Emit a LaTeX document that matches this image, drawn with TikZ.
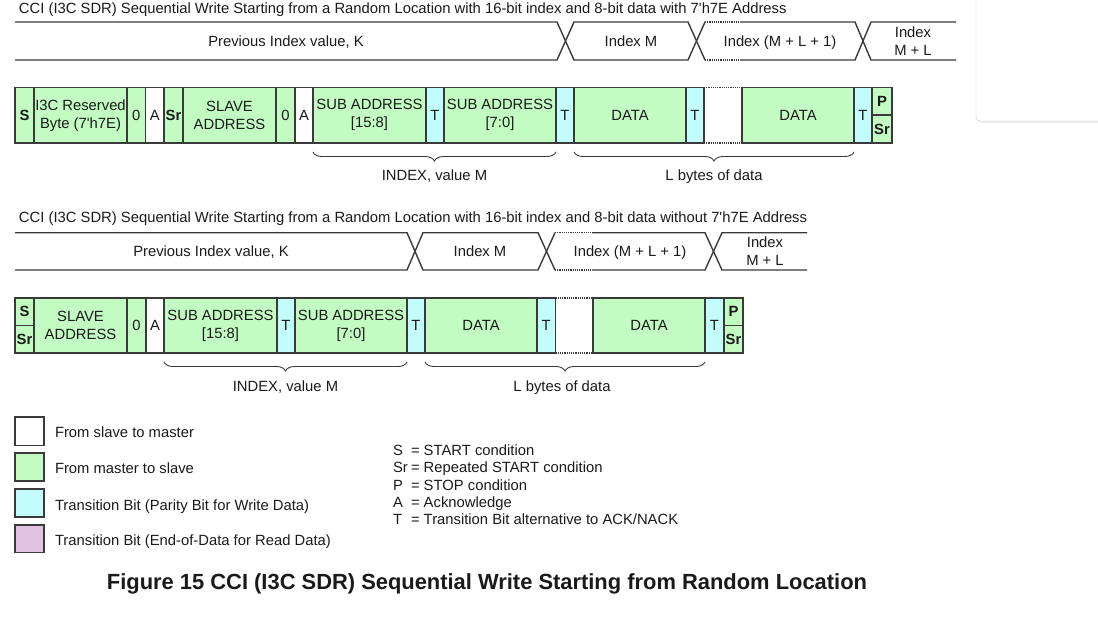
\documentclass[tikz,border=0pt]{standalone}
\usepackage{fontspec}
\newfontfamily\arialf{Liberation Sans}
\usetikzlibrary{decorations.pathreplacing}
\definecolor{gr}{HTML}{C2FCC2}
\definecolor{cy}{HTML}{C2FCFC}
\definecolor{pu}{HTML}{E2C2E2}
\definecolor{ln}{HTML}{3A3A3A}
\definecolor{tx}{HTML}{1A1A1A}
\newcommand\cell[7]{%
  \pgfmathsetmacro\cellw{#3-#2}\pgfmathsetmacro\cellh{#5-#4}%
  \node[cellbox,fill=#6,minimum width=\cellw pt,minimum height=\cellh pt] (#1) at ({(#2+#3)/2},{(#4+#5)/2}) {#7};}
\begin{document}
\begin{tikzpicture}[x=1pt,y=-1pt,
  every node/.style={font=\arialf\fontsize{14.8}{18}\selectfont, text=tx, inner sep=0pt, outer sep=0pt},
  cellbox/.style={draw=ln, line width=1.3pt, align=center},
  busline/.style={draw=ln, line width=1.4pt},
  dotline/.style={draw=ln, line width=1.2pt, densely dotted},
  bracestyle/.style={draw=ln, line width=0.9pt, decorate, decoration={brace, mirror, amplitude=9pt}},
  capfont/.style={font=\arialf\bfseries\fontsize{21.9}{26}\selectfont}]
\useasboundingbox (0,0) rectangle (1098,616);
% window artifact top right
\fill[black!7, rounded corners=5pt] (977,-10) rectangle (1112,123);
\draw[black!20, fill=white, rounded corners=4pt] (976,-10) rectangle (1110,121);

% ===== Section 1 =====
\node[anchor=base west] (t1) at (19,13.3) {CCI (I3C SDR) Sequential Write Starting from a Random Location with 16-bit index and 8-bit data with 7'h7E Address};
\draw[busline] (15,22) -- (557,22) -- (574,60) -- (688,60) -- (705,22);
\draw[busline] (15,60) -- (557,60) -- (574,22) -- (688,22) -- (705,60);
\draw[dotline] (705,22) -- (740,22);
\draw[dotline] (705,60) -- (740,60);
\draw[busline] (740,22) -- (855,22) -- (871,60) -- (956,60);
\draw[busline] (740,60) -- (855,60) -- (871,22) -- (956,22);
\node[anchor=base] (b1a) at (286,46.5) {Previous Index value, K};
\node[anchor=base] (b1b) at (631,46.5) {Index M};
\node[anchor=base] (b1c) at (780,46.5) {Index (M + L + 1)};
\node[align=center] (b1d) at (913,41.5) {Index\\M + L};

\cell{fa}{15}{34}{87.5}{143}{gr}{\textbf{S}}
\cell{fb}{34}{127}{87.5}{143}{gr}{I3C Reserved\\Byte (7'h7E)}
\cell{fc}{127}{145.5}{87.5}{143}{gr}{0}
\cell{fd}{145.5}{164}{87.5}{143}{white}{A}
\cell{fe}{164}{183}{87.5}{143}{gr}{\textbf{Sr}}
\cell{ff}{183}{276}{87.5}{143}{gr}{SLAVE\\ADDRESS}
\cell{fg}{276}{295}{87.5}{143}{gr}{0}
\cell{fh}{295}{313}{87.5}{143}{white}{A}
\cell{fi}{313}{426}{87.5}{143}{gr}{SUB ADDRESS\\{[15:8]}}
\cell{fj}{426}{444}{87.5}{143}{cy}{T}
\cell{fk}{444}{556}{87.5}{143}{gr}{SUB ADDRESS\\{[7:0]}}
\cell{fl}{556}{574}{87.5}{143}{cy}{T}
\cell{fm}{574}{686}{87.5}{143}{gr}{DATA}
\cell{fn}{686}{704}{87.5}{143}{cy}{T}
\cell{fo}{742}{854}{87.5}{143}{gr}{DATA}
\cell{fp}{854}{872}{87.5}{143}{cy}{T}
\cell{fq}{872}{892}{87.5}{115}{gr}{\textbf{P}}
\cell{fr}{872}{892}{115}{143}{gr}{\textbf{Sr}}
\draw[dotline] (fn.north east) -- (fo.north west);
\draw[dotline] (fn.south east) -- (fo.south west);
\draw[bracestyle] ([yshift=-9pt]fi.south west) -- ([yshift=-9pt]fk.south east);
\draw[bracestyle] ([yshift=-9pt]fm.south west) -- ([yshift=-9pt]fo.south east);
\node[anchor=base] (i1) at (434.5,180) {INDEX, value M};
\node[anchor=base] (l1) at (714,180) {L bytes of data};

% ===== Section 2 =====
\node[anchor=base west] (t2) at (19,222.7) {CCI (I3C SDR) Sequential Write Starting from a Random Location with 16-bit index and 8-bit data without 7'h7E Address};
\draw[busline] (15,232.7) -- (407,232.7) -- (423,270) -- (538,270) -- (555,232.7);
\draw[busline] (15,270) -- (407,270) -- (423,232.7) -- (538,232.7) -- (555,270);
\draw[dotline] (555,232.7) -- (592,232.7);
\draw[dotline] (555,270) -- (592,270);
\draw[busline] (592,232.7) -- (705,232.7) -- (722,270) -- (807,270);
\draw[busline] (592,270) -- (705,270) -- (722,232.7) -- (807,232.7);
\node[anchor=base] (b2a) at (211,256) {Previous Index value, K};
\node[anchor=base] (b2b) at (480,256) {Index M};
\node[anchor=base] (b2c) at (630,256) {Index (M + L + 1)};
\node[align=center] (b2d) at (765,251.5) {Index\\M + L};

\cell{sa}{15}{34}{298}{325.5}{gr}{\textbf{S}}
\cell{sb}{15}{34}{325.5}{353}{gr}{\textbf{Sr}}
\cell{sc}{34}{127}{298}{353}{gr}{SLAVE\\ADDRESS}
\cell{sd}{127}{146}{298}{353}{gr}{0}
\cell{se}{146}{164}{298}{353}{white}{A}
\cell{sf}{164}{277}{298}{353}{gr}{SUB ADDRESS\\{[15:8]}}
\cell{sg}{277}{295}{298}{353}{cy}{T}
\cell{sh}{295}{407}{298}{353}{gr}{SUB ADDRESS\\{[7:0]}}
\cell{si}{407}{425}{298}{353}{cy}{T}
\cell{sj}{425}{537}{298}{353}{gr}{DATA}
\cell{sk}{537}{555.5}{298}{353}{cy}{T}
\cell{sl}{593}{705}{298}{353}{gr}{DATA}
\cell{sm}{705}{724}{298}{353}{cy}{T}
\cell{sn}{724}{743}{298}{325.5}{gr}{\textbf{P}}
\cell{so}{724}{743}{325.5}{353}{gr}{\textbf{Sr}}
\draw[dotline] (sk.north east) -- (sl.north west);
\draw[dotline] (sk.south east) -- (sl.south west);
\draw[bracestyle] ([yshift=-9pt]sf.south west) -- ([yshift=-9pt]sh.south east);
\draw[bracestyle] ([yshift=-9pt]sj.south west) -- ([yshift=-9pt]sl.south east);
\node[anchor=base] (i2) at (285.5,391) {INDEX, value M};
\node[anchor=base] (l2) at (562,391) {L bytes of data};

% ===== Legend =====
\cell{la}{15}{44}{417}{445.7}{white}{}
\cell{lb}{15}{44}{453}{481}{gr}{}
\cell{lc}{15}{44}{489}{517}{cy}{}
\cell{ld}{15}{44}{525}{552.7}{pu}{}
\node[anchor=base west] (lta) at (55,437.3) {From slave to master};
\node[anchor=base west] (ltb) at (55,473.3) {From master to slave};
\node[anchor=base west] (ltc) at (55,510) {Transition Bit (Parity Bit for Write Data)};
\node[anchor=base west] (ltd) at (55,545) {Transition Bit (End-of-Data for Read Data)};

\node[anchor=base west] (ka) at (393,455) {S};
\node[anchor=base west] (kb) at (393,472.5) {Sr};
\node[anchor=base west] (kc) at (393,490) {P};
\node[anchor=base west] (kd) at (393,507) {A};
\node[anchor=base west] (ke) at (393,524) {T};
\node[anchor=base west] (va) at (411,455) {= START condition};
\node[anchor=base west] (vb) at (411,472.5) {= Repeated START condition};
\node[anchor=base west] (vc) at (411,490) {= STOP condition};
\node[anchor=base west] (vd) at (411,507) {= Acknowledge};
\node[anchor=base west] (ve) at (411,524) {= Transition Bit alternative to ACK/NACK};

\node[capfont, anchor=base] (cap) at (487,589) {Figure 15 CCI (I3C SDR) Sequential Write Starting from Random Location};
\end{tikzpicture}
\end{document}
